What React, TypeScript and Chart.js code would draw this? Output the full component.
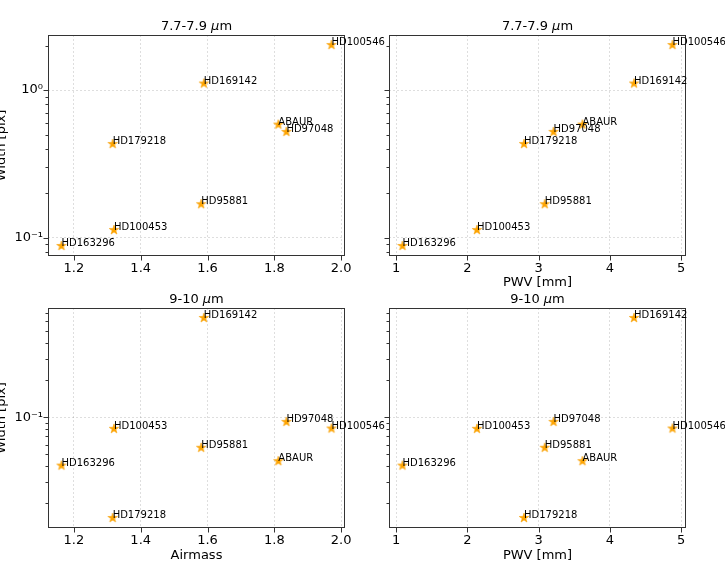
import { useEffect, useRef } from "react";
import { Chart, registerables } from "chart.js";

Chart.register(...registerables);

// ---------------- data ----------------
const starNames = ["HD163296", "HD100453", "HD179218", "HD95881", "HD169142", "ABAUR", "HD97048", "HD100546"];
const airmass = [1.163, 1.320, 1.316, 1.581, 1.589, 1.812, 1.836, 1.971];
const pwv = [1.089, 2.134, 2.795, 3.086, 4.34, 3.616, 3.21, 4.88];
const width77 = [0.0879, 0.1127, 0.431, 0.1686, 1.108, 0.584, 0.521, 2.02];
const width910 = [0.0406, 0.0806, 0.01524, 0.0566, 0.64, 0.0441, 0.0918, 0.0811];
const airmassTicks = [1.2, 1.4, 1.6, 1.8, 2.0];
const pwvTicks = [1, 2, 3, 4, 5];
const logMultipliers = [1, 2, 3, 4, 5, 6, 7, 8, 9];
const panelTitles = ["7.7-7.9 μm", "9-10 μm"];
const yTitle = "Width [pix]";
const xTitleAirmass = "Airmass";
const xTitlePwv = "PWV [mm]";

// ---------------- helpers ----------------
const FONT = "'DejaVu Sans', 'Liberation Sans', sans-serif";
const GRID = "rgba(0,0,0,0.13)";
const SPINE = "#333333";
const SUP: Record<string, string> = { "-": "⁻", "0": "⁰", "1": "¹", "2": "²", "3": "³", "4": "⁴", "5": "⁵", "6": "⁶", "7": "⁷", "8": "⁸", "9": "⁹" };

function logLabel(v: number) {
  const e = Math.round(Math.log10(v));
  return "10" + String(e).split("").map((c) => SUP[c]).join("");
}
function linRange(vals: number[]) {
  const lo = Math.min(...vals), hi = Math.max(...vals);
  const m = (hi - lo) * 0.05;
  return [lo - m, hi + m];
}
function logRange(vals: number[]) {
  const lo = Math.log10(Math.min(...vals)), hi = Math.log10(Math.max(...vals));
  const m = (hi - lo) * 0.05;
  return [Math.pow(10, lo - m), Math.pow(10, hi + m)];
}
function logTicks(min: number, max: number) {
  const out: { value: number; major: boolean }[] = [];
  for (let e = Math.floor(Math.log10(min)); e <= Math.ceil(Math.log10(max)); e++) {
    for (const m of logMultipliers) {
      const v = m * Math.pow(10, e);
      if (v >= min && v <= max) out.push({ value: v, major: m === 1 });
    }
  }
  return out;
}
function makeStar(): HTMLCanvasElement {
  const size = 12;
  const c = document.createElement("canvas");
  c.width = size;
  c.height = size;
  const ctx = c.getContext("2d")!;
  const cx = size / 2, cy = size / 2;
  const R = 5, r = R * 0.382;
  ctx.beginPath();
  for (let i = 0; i < 10; i++) {
    const rad = i % 2 === 0 ? R : r;
    const a = -Math.PI / 2 + (i * Math.PI) / 5;
    const x = cx + rad * Math.cos(a), y = cy + rad * Math.sin(a);
    if (i === 0) ctx.moveTo(x, y);
    else ctx.lineTo(x, y);
  }
  ctx.closePath();
  ctx.fillStyle = "#FFA500";
  ctx.fill();
  ctx.strokeStyle = "#F7A000";
  ctx.lineWidth = 0.6;
  ctx.stroke();
  return c;
}

type Box = { left: number; top: number; width: number; height: number };
type Area = { left: number; top: number; right: number; bottom: number };
type Panel = {
  xs: number[];
  ys: number[];
  xTicks: number[];
  xDecimals: number;
  title: string;
  xTitle: string | null;
  xTitlePad: number;
  showY: boolean;
  canvas: Box;
  area: Area;
};

const panels: Panel[] = [
  { xs: airmass, ys: width77, xTicks: airmassTicks, xDecimals: 1, title: panelTitles[0], xTitle: null, xTitlePad: 0, showY: true,
    canvas: { left: 0, top: 0, width: 400, height: 292 }, area: { left: 48, top: 35, right: 345, bottom: 256 } },
  { xs: pwv, ys: width77, xTicks: pwvTicks, xDecimals: 0, title: panelTitles[0], xTitle: xTitlePwv, xTitlePad: 2.5, showY: false,
    canvas: { left: 360, top: 0, width: 365, height: 292 }, area: { left: 389, top: 35, right: 686, bottom: 256 } },
  { xs: airmass, ys: width910, xTicks: airmassTicks, xDecimals: 1, title: panelTitles[1], xTitle: xTitleAirmass, xTitlePad: -1, showY: true,
    canvas: { left: 0, top: 288, width: 400, height: 273 }, area: { left: 48, top: 308, right: 345, bottom: 528 } },
  { xs: pwv, ys: width910, xTicks: pwvTicks, xDecimals: 0, title: panelTitles[1], xTitle: xTitlePwv, xTitlePad: -1, showY: false,
    canvas: { left: 360, top: 288, width: 365, height: 273 }, area: { left: 389, top: 308, right: 686, bottom: 528 } },
];

function makeChart(canvas: HTMLCanvasElement, p: Panel, star: HTMLCanvasElement) {
  const [xmin, xmax] = linRange(p.xs);
  const [ymin, ymax] = logRange(p.ys);
  const yW = p.area.left - p.canvas.left;
  const xH = p.canvas.top + p.canvas.height - p.area.bottom;

  const framePlugin = {
    id: "frame",
    afterDraw(chart: any) {
      const ctx: CanvasRenderingContext2D = chart.ctx;
      const a = chart.chartArea;
      const xs = chart.scales.x, ys = chart.scales.y;
      ctx.save();
      // tick marks
      ctx.strokeStyle = SPINE;
      ctx.lineWidth = 1;
      ctx.beginPath();
      for (const t of xs.ticks) {
        const px = Math.round(xs.getPixelForValue(t.value)) + 0.5;
        ctx.moveTo(px, a.bottom);
        ctx.lineTo(px, a.bottom + 4.5);
      }
      for (const t of ys.ticks) {
        const py = Math.round(ys.getPixelForValue(t.value)) + 0.5;
        const len = t.major ? 4.5 : 2.5;
        ctx.moveTo(a.left - len, py);
        ctx.lineTo(a.left, py);
      }
      ctx.stroke();
      // spines
      ctx.strokeRect(a.left + 0.5, a.top + 0.5, a.right - a.left - 1, a.bottom - a.top - 1);
      // point labels
      const meta = chart.getDatasetMeta(0);
      ctx.fillStyle = "#000";
      ctx.font = `10px ${FONT}`;
      ctx.textAlign = "left";
      ctx.textBaseline = "alphabetic";
      meta.data.forEach((el: any, i: number) => {
        ctx.fillText(starNames[i], el.x, el.y);
      });
      // panel title with italic mu
      const parts = p.title.split("μ");
      const normal = `13px ${FONT}`;
      const italic = `italic 13px ${FONT}`;
      ctx.font = normal;
      const w0 = ctx.measureText(parts[0]).width;
      const w2 = ctx.measureText(parts[1]).width;
      ctx.font = italic;
      const w1 = ctx.measureText("μ").width;
      let x = (a.left + a.right) / 2 - (w0 + w1 + w2) / 2;
      const y = a.top - 5;
      ctx.font = normal;
      ctx.fillText(parts[0], x, y);
      x += w0;
      ctx.font = italic;
      ctx.fillText("μ", x, y);
      x += w1;
      ctx.font = normal;
      ctx.fillText(parts[1], x, y);
      ctx.restore();
    },
  };

  return new Chart(canvas, {
    type: "scatter",
    data: {
      datasets: [
        {
          data: p.xs.map((v, i) => ({ x: v, y: p.ys[i] })),
          pointStyle: star,
          pointRadius: 5,
          pointHoverRadius: 5,
          backgroundColor: "#FFA500",
          borderColor: "#FFA500",
        },
      ],
    },
    options: {
      responsive: false,
      animation: false,
      events: [],
      layout: {
        padding: {
          left: 0,
          top: p.area.top - p.canvas.top,
          right: p.canvas.left + p.canvas.width - p.area.right,
          bottom: 0,
        },
      },
      plugins: { legend: { display: false }, tooltip: { enabled: false }, title: { display: false } },
      scales: {
        x: {
          type: "linear",
          position: "bottom",
          min: xmin,
          max: xmax,
          bounds: "data",
          afterBuildTicks: (s: any) => {
            s.ticks = p.xTicks.map((v) => ({ value: v }));
          },
          afterFit: (s: any) => {
            s.height = xH;
          },
          ticks: {
            autoSkip: false,
            maxRotation: 0,
            padding: 5,
            color: "#000",
            font: { size: 13, family: FONT },
            callback: (v: any) => Number(v).toFixed(p.xDecimals),
          },
          grid: { drawTicks: false, color: GRID, lineWidth: 1 },
          border: { display: false, dash: [2, 2] },
          title: p.xTitle
            ? { display: true, text: p.xTitle, color: "#000", font: { size: 13, family: FONT, lineHeight: 1 }, padding: { top: 0, bottom: p.xTitlePad } }
            : { display: false },
        },
        y: {
          type: "logarithmic",
          position: "left",
          min: ymin,
          max: ymax,
          bounds: "data",
          afterBuildTicks: (s: any) => {
            s.ticks = logTicks(ymin, ymax);
          },
          afterFit: (s: any) => {
            s.width = yW;
          },
          ticks: {
            display: p.showY,
            autoSkip: false,
            padding: 5,
            color: "#000",
            font: { size: 13, family: FONT },
            callback: (v: any, i: number, ts: any[]) => (ts[i] && ts[i].major ? logLabel(Number(v)) : ""),
          },
          grid: {
            drawTicks: false,
            lineWidth: 1,
            color: (c: any) => (c.tick && c.tick.major ? GRID : "rgba(0,0,0,0)"),
          },
          border: { display: false, dash: [2, 2] },
          title: p.showY
            ? { display: true, text: yTitle, color: "#000", font: { size: 13, family: FONT, lineHeight: 0.2 }, padding: 0 }
            : { display: false },
        },
      },
    } as any,
    plugins: [framePlugin],
  });
}

export default function App() {
  const refs = [useRef<HTMLCanvasElement>(null), useRef<HTMLCanvasElement>(null), useRef<HTMLCanvasElement>(null), useRef<HTMLCanvasElement>(null)];

  useEffect(() => {
    Chart.defaults.font.family = FONT;
    const star = makeStar();
    const charts = panels.map((p, i) => makeChart(refs[i].current!, p, star));
    return () => charts.forEach((c) => c.destroy());
  }, []);

  return (
    <div style={{ position: "absolute", left: 0, top: 0, width: 725, height: 561, overflow: "hidden", background: "#fff" }}>
      {panels.map((p, i) => (
        <canvas
          key={i}
          ref={refs[i]}
          width={p.canvas.width}
          height={p.canvas.height}
          style={{ position: "absolute", left: p.canvas.left, top: p.canvas.top, width: p.canvas.width, height: p.canvas.height }}
        />
      ))}
    </div>
  );
}
